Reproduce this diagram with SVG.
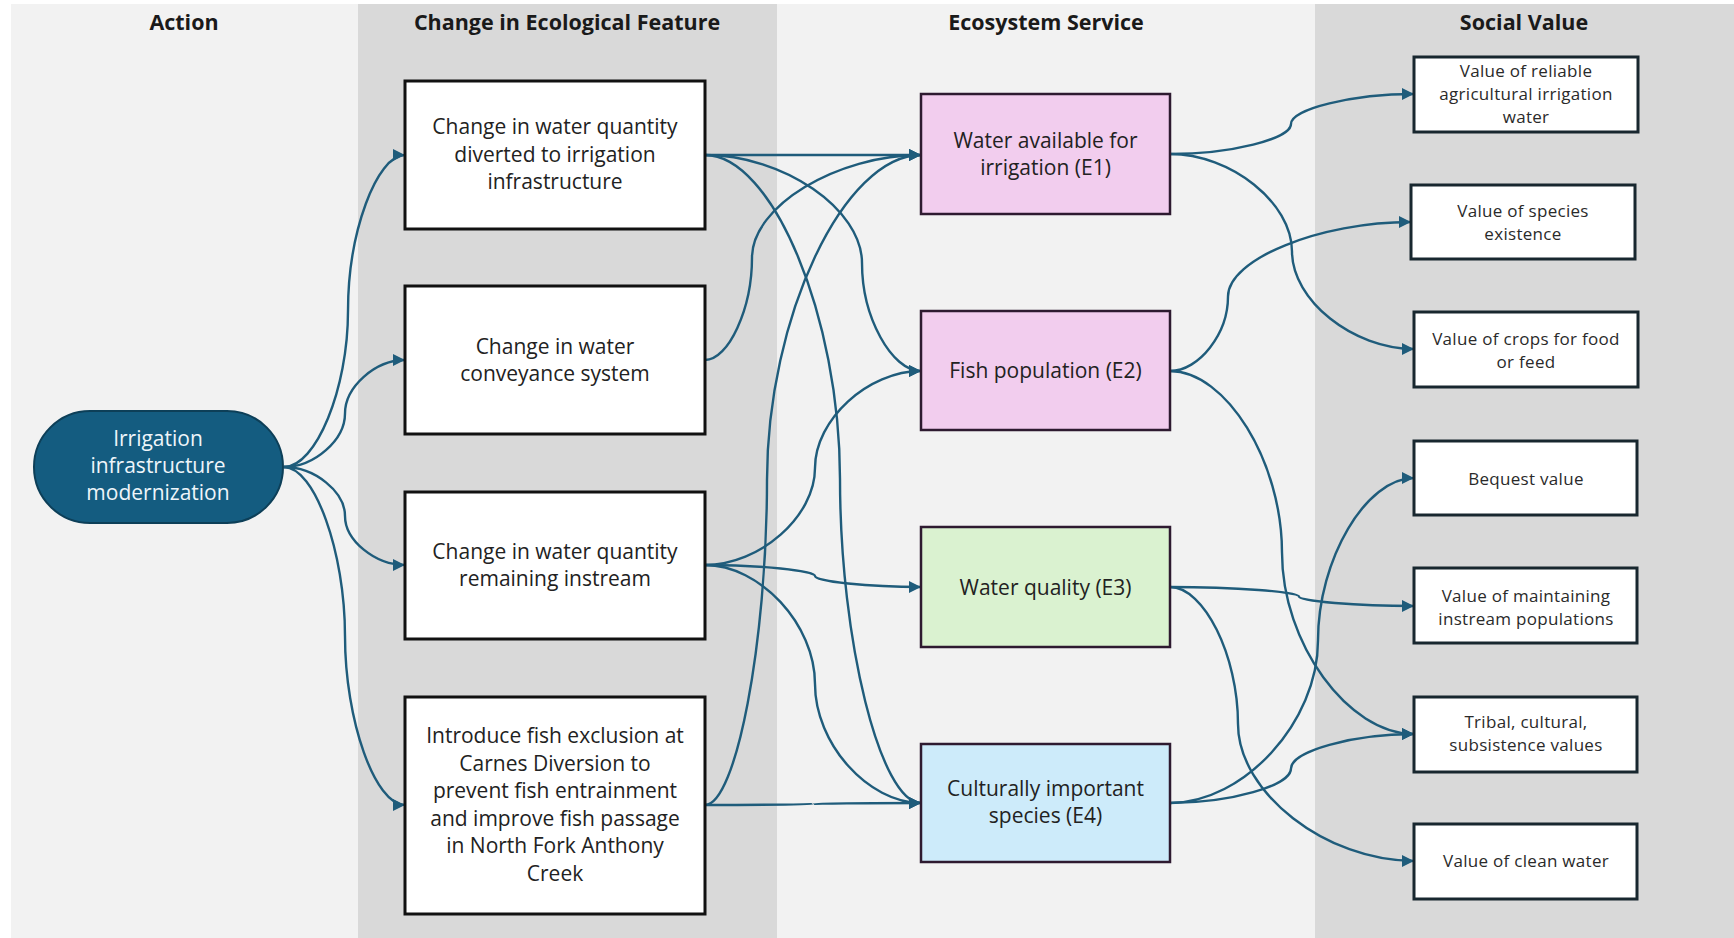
<svg xmlns="http://www.w3.org/2000/svg" width="1734" height="938" viewBox="0 0 1734 938">
<style>
.hdr{font-family:"Open Sans","Liberation Sans",sans-serif;font-weight:700;font-size:21.5px;fill:#1a1a1a;text-anchor:middle}
.t{font-family:"Open Sans","Liberation Sans",sans-serif;font-size:21px;fill:#222;text-anchor:middle}
.s{font-family:"Open Sans","Liberation Sans",sans-serif;font-size:17px;fill:#2a2a2a;text-anchor:middle;letter-spacing:0.3px}
.w{fill:#eef5fa;font-family:"Open Sans","Liberation Sans",sans-serif;font-size:21px;text-anchor:middle}
.feat{fill:#ffffff;stroke:#111;stroke-width:3}
.es{stroke:#2e1a30;stroke-width:2.5}
.sv{fill:#ffffff;stroke:#18272f;stroke-width:3}
.c{fill:none;stroke:#1f5c7b;stroke-width:2.4;marker-end:url(#ah)}
</style>
<defs>
<marker id="ah" markerUnits="userSpaceOnUse" markerWidth="12" markerHeight="12" refX="10" refY="5" orient="auto" viewBox="0 0 10 10">
<path d="M0,0 L10,5 L0,10 z" fill="#1f5c7b"/>
</marker>
</defs>
<rect x="0" y="0" width="1734" height="938" fill="#ffffff"/>
<rect x="11" y="4" width="1723" height="934" fill="#f2f2f2"/>
<rect x="358" y="4" width="419" height="934" fill="#d9d9d9"/>
<rect x="1315" y="4" width="419" height="934" fill="#d9d9d9"/>
<g id="headers">
<text class="hdr" x="184" y="30">Action</text>
<text class="hdr" x="567" y="30">Change in Ecological Feature</text>
<text class="hdr" x="1046" y="30">Ecosystem Service</text>
<text class="hdr" x="1524" y="30">Social Value</text>
</g>
<g id="connectors">
<path class="c" d="M284,467 C316,467 348,389 348,311 C348,233 376.5,155 405,155"/>
<path class="c" d="M284,467 C314.5,467 345,440 345,413.5 C345,387 375,360 405,360"/>
<path class="c" d="M284,467 C314.5,467 345,491.5 345,516 C345,540.5 375,565 405,565"/>
<path class="c" d="M284,467 C314.5,467 345,551.5 345,636 C345,720.5 375,805 405,805"/>
<path class="c" d="M705,155 L921,155"/>
<path class="c" d="M705,155 C783.5,155 862,209 862,263 C862,317 891.5,371 921,371"/>
<path class="c" d="M705,155 C772.5,155 840,317 840,479 C840,641 880.5,803 921,803"/>
<path class="c" d="M705,360 C728.5,360 752,308.75 752,257.5 C752,206.25 836.5,155 921,155"/>
<path class="c" d="M705,565 C760,565 815,516.5 815,468 C815,419.5 868,371 921,371"/>
<path class="c" d="M705,565 C760,565 815,570.5 815,576 C815,581.5 868,587 921,587"/>
<path class="c" d="M705,565 C760,565 815,624.5 815,684 C815,743.5 868,803 921,803"/>
<path class="c" d="M705,805 C736,805 767,642.5 767,480 C767,317.5 844,155 921,155"/>
<path class="c" d="M705,805 C759,805 813,804.5 813,804 C813,803.5 867,803 921,803"/>
<path class="c" d="M1170,154 C1230.5,154 1291,139 1291,124 C1291,109 1352.5,94 1414,94"/>
<path class="c" d="M1170,154 C1231,154 1292,202.75 1292,251.5 C1292,300.25 1353,349 1414,349"/>
<path class="c" d="M1170,371 C1199,371 1228,333.75 1228,296.5 C1228,259.25 1319.5,222 1411,222"/>
<path class="c" d="M1170,371 C1226,371 1282,461.75 1282,552.5 C1282,643.25 1348,734 1414,734"/>
<path class="c" d="M1170,587 C1234.5,587 1299,591.75 1299,596.5 C1299,601.25 1356.5,606 1414,606"/>
<path class="c" d="M1170,587 C1204,587 1238,655.5 1238,724 C1238,792.5 1326,861 1414,861"/>
<path class="c" d="M1170,803 C1244,803 1318,721.75 1318,640.5 C1318,559.25 1366,478 1414,478"/>
<path class="c" d="M1170,803 C1230.5,803 1291,785.75 1291,768.5 C1291,751.25 1352.5,734 1414,734"/>
</g>
<g id="action">
<rect x="34" y="411" width="249" height="112" rx="56" ry="56" fill="#145c80" stroke="#0d3f58" stroke-width="2"/>
<text class="w" x="158" y="446">Irrigation</text>
<text class="w" x="158" y="473">infrastructure</text>
<text class="w" x="158" y="500">modernization</text>
</g>
<g id="feat1">
<rect class="feat" x="405" y="81" width="300" height="148"/>
<text class="t" x="555" y="134">Change in water quantity</text>
<text class="t" x="555" y="162">diverted to irrigation</text>
<text class="t" x="555" y="189">infrastructure</text>
</g>
<g id="feat2">
<rect class="feat" x="405" y="286" width="300" height="148"/>
<text class="t" x="555" y="354">Change in water</text>
<text class="t" x="555" y="381">conveyance system</text>
</g>
<g id="feat3">
<rect class="feat" x="405" y="492" width="300" height="147"/>
<text class="t" x="555" y="559">Change in water quantity</text>
<text class="t" x="555" y="586">remaining instream</text>
</g>
<g id="feat4">
<rect class="feat" x="405" y="697" width="300" height="217"/>
<text class="t" x="555" y="743">Introduce fish exclusion at</text>
<text class="t" x="555" y="770.5">Carnes Diversion to</text>
<text class="t" x="555" y="798">prevent fish entrainment</text>
<text class="t" x="555" y="825.5">and improve fish passage</text>
<text class="t" x="555" y="853">in North Fork Anthony</text>
<text class="t" x="555" y="880.5">Creek</text>
</g>
<g id="E1">
<rect class="es" x="921" y="94" width="249" height="120" fill="#f2cdee"/>
<text class="t" x="1045.5" y="148">Water available for</text>
<text class="t" x="1045.5" y="175">irrigation (E1)</text>
</g>
<g id="E2">
<rect class="es" x="921" y="311" width="249" height="119" fill="#f2cdee"/>
<text class="t" x="1045.5" y="378">Fish population (E2)</text>
</g>
<g id="E3">
<rect class="es" x="921" y="527" width="249" height="120" fill="#daf2d0"/>
<text class="t" x="1045.5" y="595">Water quality (E3)</text>
</g>
<g id="E4">
<rect class="es" x="921" y="744" width="249" height="118" fill="#cdebfa"/>
<text class="t" x="1045.5" y="796">Culturally important</text>
<text class="t" x="1045.5" y="823">species (E4)</text>
</g>
<g id="S1">
<rect class="sv" x="1414" y="57" width="224" height="75"/>
<text class="s" x="1526" y="77">Value of reliable</text>
<text class="s" x="1526" y="100">agricultural irrigation</text>
<text class="s" x="1526" y="123">water</text>
</g>
<g id="S2">
<rect class="sv" x="1411" y="185" width="224" height="74"/>
<text class="s" x="1523" y="217">Value of species</text>
<text class="s" x="1523" y="240">existence</text>
</g>
<g id="S3">
<rect class="sv" x="1414" y="312" width="224" height="75"/>
<text class="s" x="1526" y="345">Value of crops for food</text>
<text class="s" x="1526" y="368">or feed</text>
</g>
<g id="S4">
<rect class="sv" x="1414" y="441" width="223" height="74"/>
<text class="s" x="1526" y="485">Bequest value</text>
</g>
<g id="S5">
<rect class="sv" x="1414" y="568" width="223" height="75"/>
<text class="s" x="1526" y="602">Value of maintaining</text>
<text class="s" x="1526" y="625">instream populations</text>
</g>
<g id="S6">
<rect class="sv" x="1414" y="697" width="223" height="75"/>
<text class="s" x="1526" y="728">Tribal, cultural,</text>
<text class="s" x="1526" y="751">subsistence values</text>
</g>
<g id="S7">
<rect class="sv" x="1414" y="824" width="223" height="75"/>
<text class="s" x="1526" y="867">Value of clean water</text>
</g>
</svg>
